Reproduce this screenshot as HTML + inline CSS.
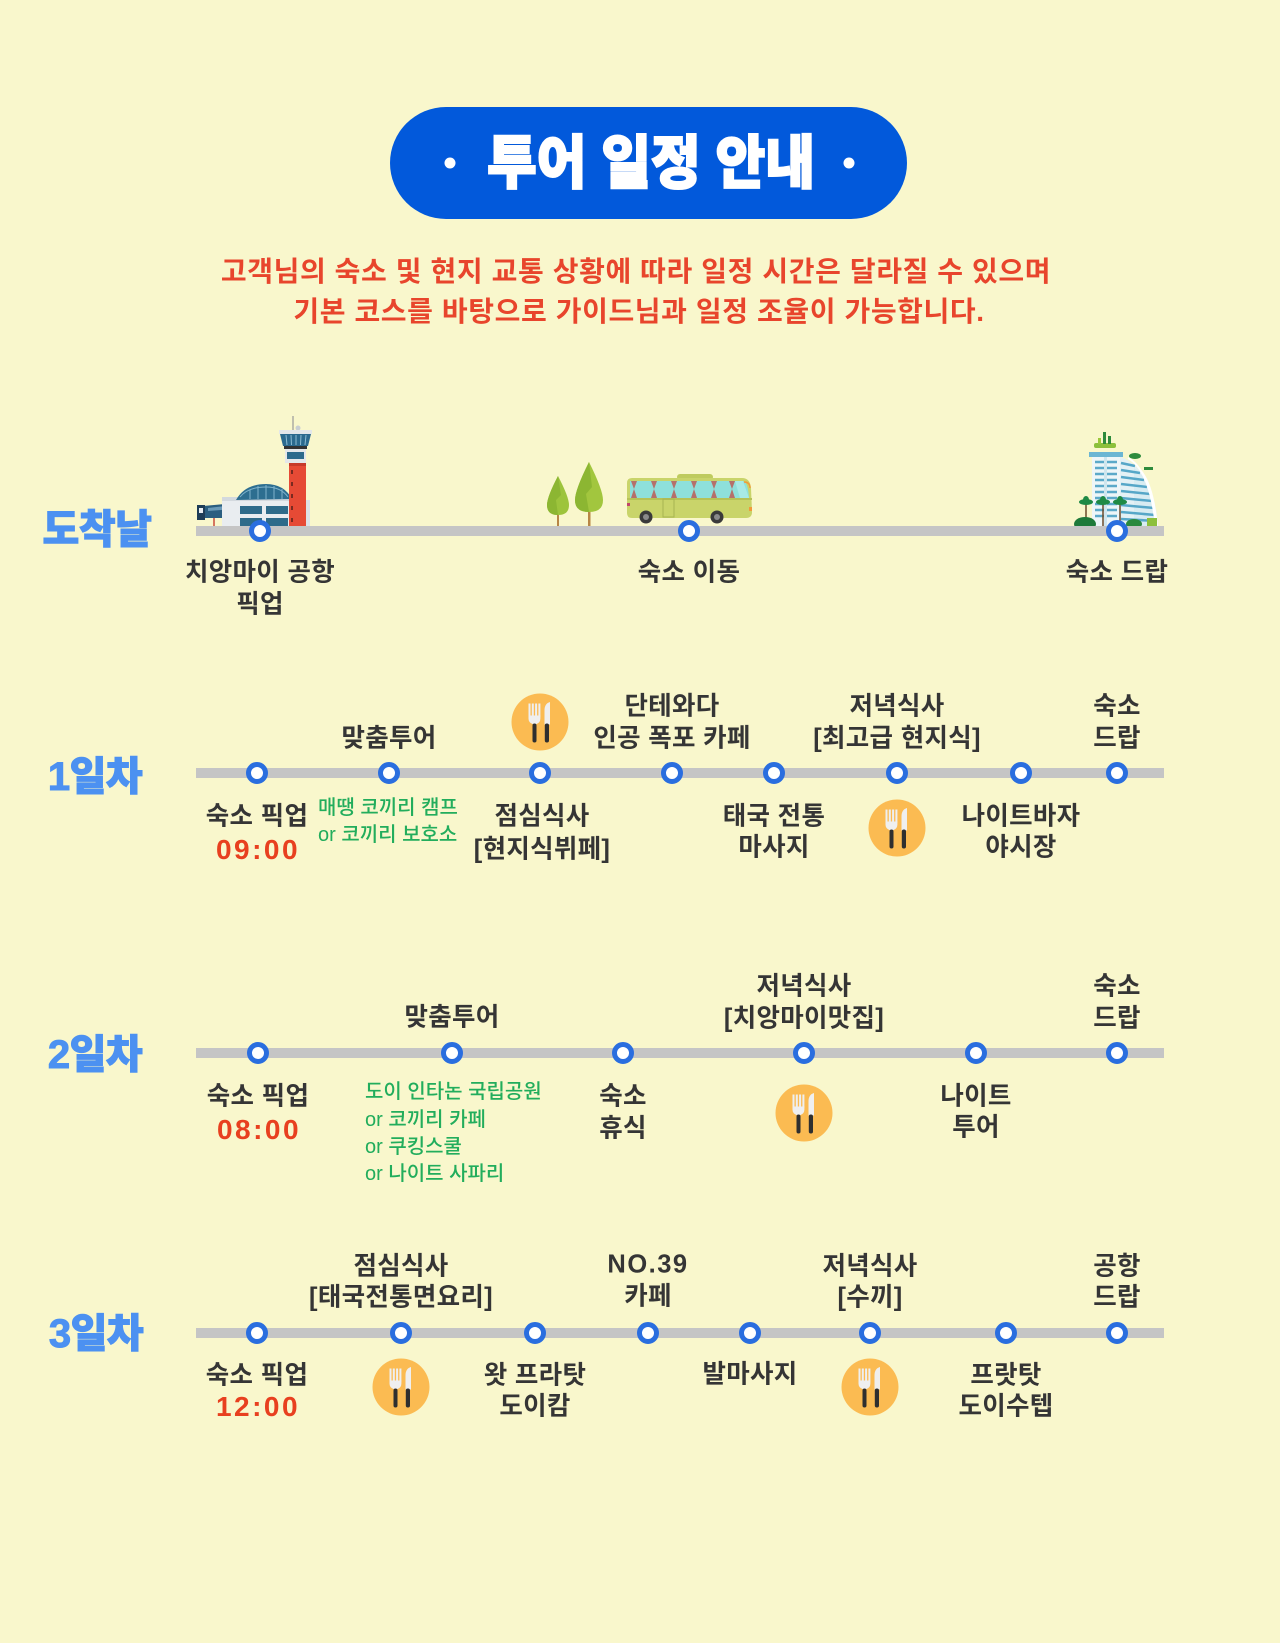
<!DOCTYPE html>
<html lang="ko">
<head>
<meta charset="utf-8">
<style>
  html,body{margin:0;padding:0;}
  body{width:1280px;height:1643px;background:#F9F7CC;position:relative;overflow:hidden;
       font-family:"Liberation Sans","Noto Sans CJK KR","NanumGothic",sans-serif;}
  .c{position:absolute;transform:translate(-50%,-50%);white-space:nowrap;line-height:1;}
  .l{position:absolute;transform:translateY(-50%);white-space:nowrap;line-height:1;}
  .b{font-size:25.5px;font-weight:700;color:#353535;letter-spacing:0.3px;}
  .t{font-size:28px;font-weight:700;color:#E8401F;letter-spacing:2.5px;}
  .g{font-size:20px;font-weight:500;color:#22AD5C;}
  .day{font-size:40px;font-weight:900;color:#4C91F1;letter-spacing:-0.5px;-webkit-text-stroke:1px #4C91F1;}
  .sub{font-size:28px;font-weight:700;color:#E8452C;letter-spacing:0.6px;}
  .pill{position:absolute;left:390px;top:107px;width:517px;height:112px;border-radius:56px;background:#0259DB;}
  .dot{position:absolute;width:11px;height:11px;border-radius:50%;background:#fff;transform:translate(-50%,-50%);}
  .title{font-size:58px;font-weight:900;color:#fff;-webkit-text-stroke:2px #fff;transform:translate(-50%,-50%) scaleX(0.93);}
  svg{position:absolute;left:0;top:0;}
</style>
</head>
<body>

<div class="pill"></div>
<div class="dot" style="left:450px;top:163px;"></div>
<div class="dot" style="left:849px;top:163px;"></div>
<div class="c title" style="left:651px;top:164px;">투어 일정 안내</div>

<div class="c sub" style="left:636px;top:272px;">고객님의 숙소 및 현지 교통 상황에 따라 일정 시간은 달라질 수 있으며</div>
<div class="c sub" style="left:639px;top:312px;">기본 코스를 바탕으로 가이드님과 일정 조율이 가능합니다.</div>

<svg width="1280" height="1643" viewBox="0 0 1280 1643" xmlns="http://www.w3.org/2000/svg">
  <defs>
    <g id="food">
      <circle cx="28.5" cy="28.5" r="28.5" fill="#FBBB52"/>
      <rect x="17" y="10" width="2" height="13" fill="#EFEFEF"/>
      <rect x="20.3" y="10" width="2" height="13" fill="#EFEFEF"/>
      <rect x="23.6" y="10" width="2" height="13" fill="#EFEFEF"/>
      <rect x="26.9" y="10" width="2" height="13" fill="#EFEFEF"/>
      <path d="M17 22 H28.9 V25 Q28.9 29 25 30.5 H21 Q17 29 17 25 Z" fill="#EFEFEF"/>
      <rect x="21" y="30" width="4" height="19" rx="2" fill="#2F2F2F"/>
      <path d="M33 31 V17 Q33 10 38.5 8.5 V31 Z" fill="#EFEFEF"/>
      <rect x="33.3" y="30" width="4.2" height="19" rx="2" fill="#2F2F2F"/>
    </g>
    <g id="node">
      <circle cx="0" cy="0" r="8.5" fill="#fff" stroke="#2A6EDF" stroke-width="5"/>
    </g>
  </defs>

  <!-- ===== Airport ===== -->
  <g>
    <line x1="214" y1="516" x2="214" y2="527" stroke="#C94A3B" stroke-width="1.5"/>
    <line x1="227" y1="516" x2="227" y2="527" stroke="#C94A3B" stroke-width="1.5"/>
    <polygon points="203,506 236,503 236,518 203,518" fill="#2A5E80"/>
    <polygon points="208,508 234,505 234,509 208,511" fill="#6A9AB8"/>
    <rect x="197" y="505" width="8" height="15" fill="#1E3D57"/>
    <rect x="199" y="508" width="4" height="5" fill="#E8ECEF"/>
    <rect x="222" y="499" width="72" height="27" fill="#E9EDF0"/>
    <rect x="222" y="497" width="72" height="4" fill="#D3D9DE"/>
    <path d="M236 500 Q245 484 266 484 Q284 484 292 499 Z" fill="#2D6E90"/>
    <path d="M240 497 Q248 487 266 487 Q281 487 288 497" fill="none" stroke="#7FB3CC" stroke-width="1"/>
    <line x1="250" y1="490" x2="250" y2="499" stroke="#7FB3CC" stroke-width="1"/>
    <line x1="258" y1="486" x2="258" y2="499" stroke="#7FB3CC" stroke-width="1"/>
    <line x1="266" y1="485" x2="266" y2="499" stroke="#7FB3CC" stroke-width="1"/>
    <line x1="274" y1="486" x2="274" y2="499" stroke="#7FB3CC" stroke-width="1"/>
    <line x1="282" y1="489" x2="282" y2="499" stroke="#7FB3CC" stroke-width="1"/>
    <rect x="240" y="506" width="22" height="8" fill="#2E6B8A"/>
    <rect x="266" y="506" width="22" height="8" fill="#2E6B8A"/>
    <rect x="240" y="518" width="22" height="8" fill="#2E6B8A"/>
    <rect x="266" y="518" width="22" height="8" fill="#2E6B8A"/>
    <line x1="293" y1="416" x2="293" y2="431" stroke="#9A9A9A" stroke-width="1.2"/>
    <circle cx="298" cy="428" r="2.5" fill="#C9CED2"/>
    <rect x="279" y="430" width="33" height="4" fill="#E3E7EA"/>
    <polygon points="280,434 311,434 308,446 283,446" fill="#2B6A8E"/>
    <line x1="286" y1="435" x2="287" y2="445" stroke="#8DBCD3" stroke-width="1"/>
    <line x1="291" y1="435" x2="291.5" y2="445" stroke="#8DBCD3" stroke-width="1"/>
    <line x1="296" y1="435" x2="296" y2="445" stroke="#8DBCD3" stroke-width="1"/>
    <line x1="301" y1="435" x2="300.5" y2="445" stroke="#8DBCD3" stroke-width="1"/>
    <line x1="306" y1="435" x2="305" y2="445" stroke="#8DBCD3" stroke-width="1"/>
    <rect x="284" y="446" width="23" height="3" fill="#333"/>
    <rect x="285" y="449" width="21" height="14" fill="#E4E7EA"/>
    <rect x="287" y="452" width="17" height="7" fill="#2C6A8C"/>
    <rect x="289" y="463" width="17" height="63" fill="#E64A35"/>
    <rect x="289" y="463" width="17" height="3" fill="#C73A2A"/>
    <rect x="291" y="470" width="2" height="4" fill="#7A2A20"/>
    <rect x="291" y="482" width="2" height="4" fill="#7A2A20"/>
    <rect x="291" y="494" width="2" height="4" fill="#7A2A20"/>
    <rect x="291" y="506" width="2" height="4" fill="#7A2A20"/>
    <rect x="291" y="518" width="2" height="4" fill="#7A2A20"/>
    <rect x="306" y="500" width="4" height="26" fill="#DDE2E6"/>
  </g>

  <!-- ===== Trees ===== -->
  <g>
    <rect x="557" y="508" width="2" height="20" fill="#B88645"/>
    <path d="M558 476 Q569 497 569 505 Q569 515 558 515 Q547 515 547 505 Q547 497 558 476 Z" fill="#9DC43C"/>
    <path d="M558 476 Q547 497 547 505 Q547 515 558 515 L556 500 L561 495 Z" fill="#8CB632"/>
    <rect x="588" y="503" width="2.5" height="25" fill="#B88645"/>
    <path d="M589 462 Q603 490 603 500 Q603 512 589 512 Q575 512 575 500 Q575 490 589 462 Z" fill="#A2C63E"/>
    <path d="M589 462 Q575 490 575 500 Q575 512 589 512 L586 494 L592 487 Z" fill="#8CB632"/>
  </g>

  <!-- ===== Bus ===== -->
  <g>
    <rect x="677" y="474" width="36" height="6" rx="3" fill="#BFCB5E"/>
    <path d="M632 478 H742 Q750 478 751 488 L752 512 Q752 518 746 518 H632 Q627 518 627 513 V483 Q627 478 632 478 Z" fill="#C9D46A"/>
    <path d="M630 481 H735 L743 481 Q748 482 749 498 H630 Z" fill="#8EE0DB"/>
    <polygon points="735,481 743,481 749,498 740,498" fill="#A8EAE6"/>
    <g fill="#B5706A">
      <polygon points="631,481 637,481 634,489 637,498 631,498 634,489"/>
      <polygon points="651,481 657,481 654,489 657,498 651,498 654,489"/>
      <polygon points="671,481 677,481 674,489 677,498 671,498 674,489"/>
      <polygon points="691,481 697,481 694,489 697,498 691,498 694,489"/>
      <polygon points="711,481 717,481 714,489 717,498 711,498 714,489"/>
      <polygon points="729,481 735,481 732,489 735,498 729,498 732,489"/>
    </g>
    <rect x="627" y="498" width="125" height="2" fill="#B6C257"/>
    <rect x="663" y="499" width="11" height="18" fill="none" stroke="#A8B452" stroke-width="1"/>
    <rect x="627" y="503" width="3" height="3" fill="#C2456A"/>
    <rect x="749" y="507" width="3" height="4" fill="#F29A3A"/>
    <path d="M744 482 Q750 482 750 488" fill="none" stroke="#F29A3A" stroke-width="1.5"/>
    <circle cx="646" cy="517" r="6.5" fill="#3A3A3A"/>
    <circle cx="646" cy="517" r="3" fill="#8A8A8A"/>
    <circle cx="717" cy="517" r="6.5" fill="#3A3A3A"/>
    <circle cx="717" cy="517" r="3" fill="#8A8A8A"/>
  </g>

  <!-- ===== Hotel ===== -->
  <g>
    <path d="M1118 456 Q1152 466 1158 527 H1118 Z" fill="#E4F1F5"/>
    <path d="M1134 468 Q1155 482 1158 527 H1134 Z" fill="#D8ECF2"/>
    <g stroke="#56A7C8" stroke-width="2.5">
      <line x1="1121" y1="463" x2="1135" y2="466"/>
      <line x1="1121" y1="470" x2="1140" y2="473"/>
      <line x1="1121" y1="477" x2="1144" y2="480"/>
      <line x1="1121" y1="484" x2="1147" y2="487"/>
      <line x1="1121" y1="491" x2="1150" y2="494"/>
      <line x1="1121" y1="498" x2="1152" y2="501"/>
      <line x1="1121" y1="505" x2="1154" y2="508"/>
      <line x1="1121" y1="512" x2="1155" y2="515"/>
      <line x1="1121" y1="519" x2="1156" y2="521"/>
    </g>
    <path d="M1128 458 Q1150 470 1156 527" fill="none" stroke="#FFFFFF" stroke-width="2"/>
    <path d="M1140 470 Q1153 484 1157 527" fill="none" stroke="#FFFFFF" stroke-width="2"/>
    <rect x="1092" y="455" width="28" height="72" fill="#EEF6F8"/>
    <g stroke="#5BA9C9" stroke-width="2.5">
      <line x1="1095" y1="462" x2="1117" y2="462"/>
      <line x1="1095" y1="468" x2="1117" y2="468"/>
      <line x1="1095" y1="474" x2="1117" y2="474"/>
      <line x1="1095" y1="480" x2="1117" y2="480"/>
      <line x1="1095" y1="486" x2="1117" y2="486"/>
      <line x1="1095" y1="492" x2="1117" y2="492"/>
      <line x1="1095" y1="498" x2="1117" y2="498"/>
      <line x1="1095" y1="504" x2="1117" y2="504"/>
      <line x1="1095" y1="510" x2="1117" y2="510"/>
      <line x1="1095" y1="516" x2="1117" y2="516"/>
    </g>
    <rect x="1089" y="452" width="34" height="5" fill="#6BB6D3"/>
    <rect x="1104" y="457" width="3" height="70" fill="#CFE6EE"/>
    <rect x="1094" y="443" width="22" height="5" rx="2" fill="#8CC03C"/>
    <rect x="1103" y="432" width="3" height="12" fill="#2E8B3C"/>
    <rect x="1108" y="436" width="3" height="8" fill="#2E8B3C"/>
    <rect x="1098" y="438" width="3" height="6" fill="#9BC83A"/>
    <ellipse cx="1135" cy="456" rx="6" ry="3" fill="#2E8B3C"/>
    <rect x="1144" y="467" width="9" height="3" fill="#2E8B3C"/>
    <g stroke="#6B4B2B" stroke-width="1.5">
      <line x1="1086" y1="502" x2="1086" y2="527"/>
      <line x1="1103" y1="502" x2="1103" y2="527"/>
      <line x1="1120" y1="502" x2="1120" y2="527"/>
    </g>
    <g fill="#1F8A45">
      <ellipse cx="1086" cy="502" rx="7" ry="3"/>
      <ellipse cx="1086" cy="500" rx="3" ry="4"/>
      <ellipse cx="1103" cy="502" rx="7" ry="3"/>
      <ellipse cx="1103" cy="500" rx="3" ry="4"/>
      <ellipse cx="1120" cy="502" rx="7" ry="3"/>
      <ellipse cx="1120" cy="500" rx="3" ry="4"/>
    </g>
    <ellipse cx="1085" cy="524" rx="11" ry="7" fill="#1E7A3A"/>
    <ellipse cx="1134" cy="524" rx="8" ry="5" fill="#2A8A3E"/>
    <rect x="1147" y="518" width="10" height="8" fill="#8CC03C"/>
  </g>

  <!-- ===== Lines ===== -->
  <rect x="196" y="526" width="968" height="10" fill="#C5C5C5"/>
  <rect x="196" y="768" width="968" height="10" fill="#C5C5C5"/>
  <rect x="196" y="1048" width="968" height="10" fill="#C5C5C5"/>
  <rect x="196" y="1328" width="968" height="10" fill="#C5C5C5"/>

  <use href="#node" x="260" y="531"/>
  <use href="#node" x="689" y="531"/>
  <use href="#node" x="1117" y="531"/>

  <use href="#node" x="257" y="773"/>
  <use href="#node" x="389" y="773"/>
  <use href="#node" x="540" y="773"/>
  <use href="#node" x="672" y="773"/>
  <use href="#node" x="774" y="773"/>
  <use href="#node" x="897" y="773"/>
  <use href="#node" x="1021" y="773"/>
  <use href="#node" x="1117" y="773"/>

  <use href="#node" x="258" y="1053"/>
  <use href="#node" x="452" y="1053"/>
  <use href="#node" x="623" y="1053"/>
  <use href="#node" x="804" y="1053"/>
  <use href="#node" x="976" y="1053"/>
  <use href="#node" x="1117" y="1053"/>

  <use href="#node" x="257" y="1333"/>
  <use href="#node" x="401" y="1333"/>
  <use href="#node" x="535" y="1333"/>
  <use href="#node" x="648" y="1333"/>
  <use href="#node" x="750" y="1333"/>
  <use href="#node" x="870" y="1333"/>
  <use href="#node" x="1006" y="1333"/>
  <use href="#node" x="1117" y="1333"/>

  <use href="#food" x="511.5" y="693.5"/>
  <use href="#food" x="868.5" y="799.5"/>
  <use href="#food" x="775.5" y="1084.5"/>
  <use href="#food" x="372.5" y="1358.5"/>
  <use href="#food" x="841.5" y="1358.5"/>
</svg>

<!-- Day labels -->
<div class="c day" style="left:97px;top:530px;">도착날</div>
<div class="c day" style="left:95px;top:777px;">1일차</div>
<div class="c day" style="left:95px;top:1055px;">2일차</div>
<div class="c day" style="left:96px;top:1334px;">3일차</div>

<!-- Row 0 -->
<div class="c b" style="left:260px;top:573px;">치앙마이 공항</div>
<div class="c b" style="left:260px;top:605px;">픽업</div>
<div class="c b" style="left:689px;top:573px;">숙소 이동</div>
<div class="c b" style="left:1117px;top:573px;">숙소 드랍</div>

<!-- Row 1 above -->
<div class="c b" style="left:389px;top:739px;">맞춤투어</div>
<div class="c b" style="left:672px;top:707px;">단테와다</div>
<div class="c b" style="left:672px;top:739px;">인공 폭포 카페</div>
<div class="c b" style="left:897px;top:707px;">저녁식사</div>
<div class="c b" style="left:897px;top:739px;">[최고급 현지식]</div>
<div class="c b" style="left:1117px;top:707px;">숙소</div>
<div class="c b" style="left:1117px;top:739px;">드랍</div>
<!-- Row 1 below -->
<div class="c b" style="left:257px;top:817px;">숙소 픽업</div>
<div class="c t" style="left:258px;top:850px;">09:00</div>
<div class="l g" style="left:318px;top:808px;">매땡 코끼리 캠프</div>
<div class="l g" style="left:318px;top:835px;">or 코끼리 보호소</div>
<div class="c b" style="left:542px;top:817px;">점심식사</div>
<div class="c b" style="left:542px;top:850px;">[현지식뷔페]</div>
<div class="c b" style="left:774px;top:817px;">태국 전통</div>
<div class="c b" style="left:774px;top:848px;">마사지</div>
<div class="c b" style="left:1021px;top:817px;">나이트바자</div>
<div class="c b" style="left:1021px;top:848px;">야시장</div>

<!-- Row 2 above -->
<div class="c b" style="left:452px;top:1018px;">맞춤투어</div>
<div class="c b" style="left:804px;top:987px;">저녁식사</div>
<div class="c b" style="left:804px;top:1019px;">[치앙마이맛집]</div>
<div class="c b" style="left:1117px;top:987px;">숙소</div>
<div class="c b" style="left:1117px;top:1019px;">드랍</div>
<!-- Row 2 below -->
<div class="c b" style="left:258px;top:1097px;">숙소 픽업</div>
<div class="c t" style="left:259px;top:1130px;">08:00</div>
<div class="l g" style="left:365px;top:1092px;">도이 인타논 국립공원</div>
<div class="l g" style="left:365px;top:1120px;">or 코끼리 카페</div>
<div class="l g" style="left:365px;top:1147px;">or 쿠킹스쿨</div>
<div class="l g" style="left:365px;top:1174px;">or 나이트 사파리</div>
<div class="c b" style="left:623px;top:1097px;">숙소</div>
<div class="c b" style="left:623px;top:1129px;">휴식</div>
<div class="c b" style="left:976px;top:1097px;">나이트</div>
<div class="c b" style="left:976px;top:1128px;">투어</div>

<!-- Row 3 above -->
<div class="c b" style="left:401px;top:1267px;">점심식사</div>
<div class="c b" style="left:401px;top:1298px;">[태국전통면요리]</div>
<div class="c b" style="left:648px;top:1265px;letter-spacing:1.5px;">NO.39</div>
<div class="c b" style="left:648px;top:1297px;">카페</div>
<div class="c b" style="left:870px;top:1267px;">저녁식사</div>
<div class="c b" style="left:870px;top:1298px;">[수끼]</div>
<div class="c b" style="left:1117px;top:1267px;">공항</div>
<div class="c b" style="left:1117px;top:1298px;">드랍</div>
<!-- Row 3 below -->
<div class="c b" style="left:257px;top:1376px;">숙소 픽업</div>
<div class="c t" style="left:258px;top:1407px;">12:00</div>
<div class="c b" style="left:535px;top:1376px;">왓 프라탓</div>
<div class="c b" style="left:535px;top:1407px;">도이캄</div>
<div class="c b" style="left:750px;top:1375px;">발마사지</div>
<div class="c b" style="left:1006px;top:1376px;">프랏탓</div>
<div class="c b" style="left:1006px;top:1407px;">도이수텝</div>

</body>
</html>
